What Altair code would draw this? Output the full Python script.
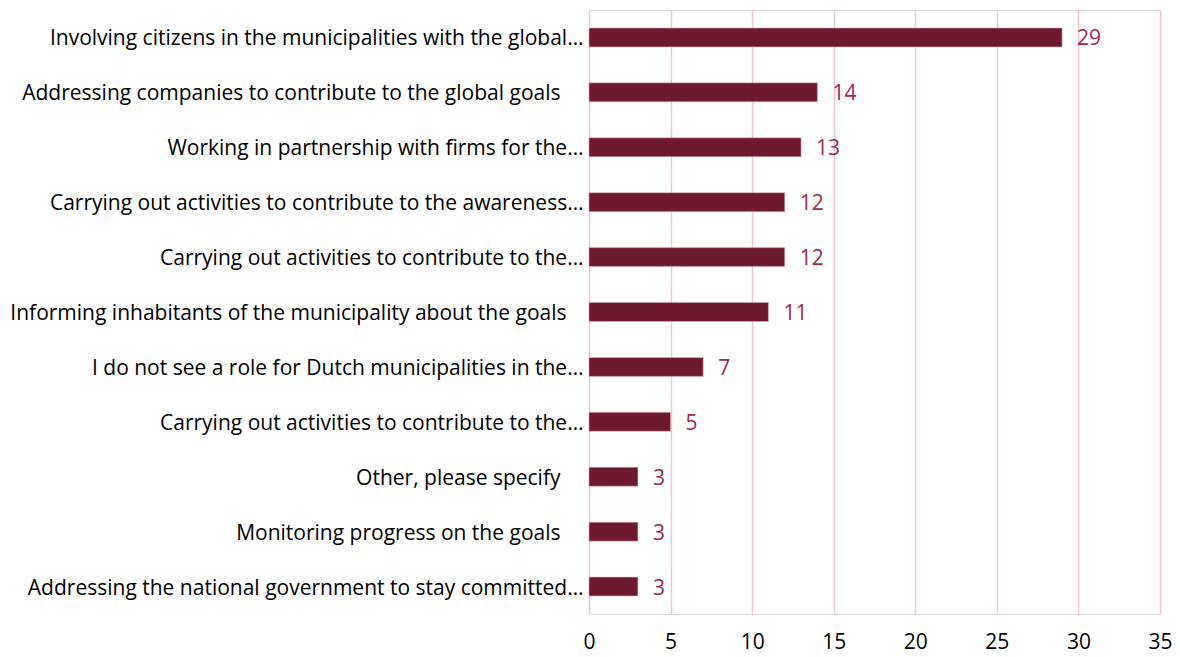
import altair as alt
import pandas as pd

categories = [
    "Involving citizens in the municipalities with the global…",
    "Addressing companies to contribute to the global goals",
    "Working in partnership with firms for the…",
    "Carrying out activities to contribute to the awareness…",
    "Carrying out activities to contribute to the…",
    "Informing inhabitants of the municipality about the goals",
    "I do not see a role for Dutch municipalities in the…",
    "Carrying out activities to contribute to the… ",
    "Other, please specify",
    "Monitoring progress on the goals",
    "Addressing the national government to stay committed…",
]
values = [29, 14, 13, 12, 12, 11, 7, 5, 3, 3, 3]
x_ticks = [0, 5, 10, 15, 20, 25, 30, 35]

df = pd.DataFrame({"cat": categories, "val": values})

FONT = "Open Sans"
FS = 21

wide_pad = ["Addressing companies to contribute to the global goals",
            "Other, please specify", "Monitoring progress on the goals"]
mid_pad = ["Informing inhabitants of the municipality about the goals"]


def in_list(lst):
    return "indexof([" + ",".join("'" + s + "'" for s in lst) + "], datum.value) >= 0"


label_padding = {
    "condition": [
        {"test": in_list(wide_pad), "value": 29},
        {"test": in_list(mid_pad), "value": 23},
    ],
    "value": 6,
}

y_enc = alt.Y("cat:N", sort=categories, title=None,
              scale=alt.Scale(paddingInner=0.654, paddingOuter=0.327),
              axis=alt.Axis(labelFont=FONT, labelFontSize=FS, labelColor="#000000",
                            labelLimit=700, ticks=False, domain=False,
                            labelPadding=label_padding, labelOffset=2, grid=False))
x_enc = alt.X("val:Q", title=None,
              scale=alt.Scale(domain=[0, 35], nice=False),
              axis=alt.Axis(values=x_ticks, labelFont=FONT, labelFontSize=FS,
                            labelColor="#000000", ticks=False, domain=False,
                            labelFlush=False,
                            grid=True, gridColor="#F3C3D1", gridWidth=1.5,
                            labelPadding=17))

bars = alt.Chart(df).mark_bar(color="#6D1A2F", stroke="#E7B3C3", strokeWidth=0.6).encode(
    x=x_enc, y=y_enc)

labels = alt.Chart(df).mark_text(align="left", baseline="middle", dx=15, dy=2,
                                 font=FONT, fontSize=FS, color="#9E2A4E").encode(
    x=alt.X("val:Q"), y=alt.Y("cat:N", sort=categories), text="val:Q")

chart = (bars + labels).properties(
    width=571, height=604,
    autosize=alt.AutoSizeParams(type="none"),
    padding={"left": 581, "top": 2, "right": 12, "bottom": 40},
).configure_view(stroke=None).configure(background="white")

chart.save("out.html", embed_options={"renderer": "svg", "actions": False})
